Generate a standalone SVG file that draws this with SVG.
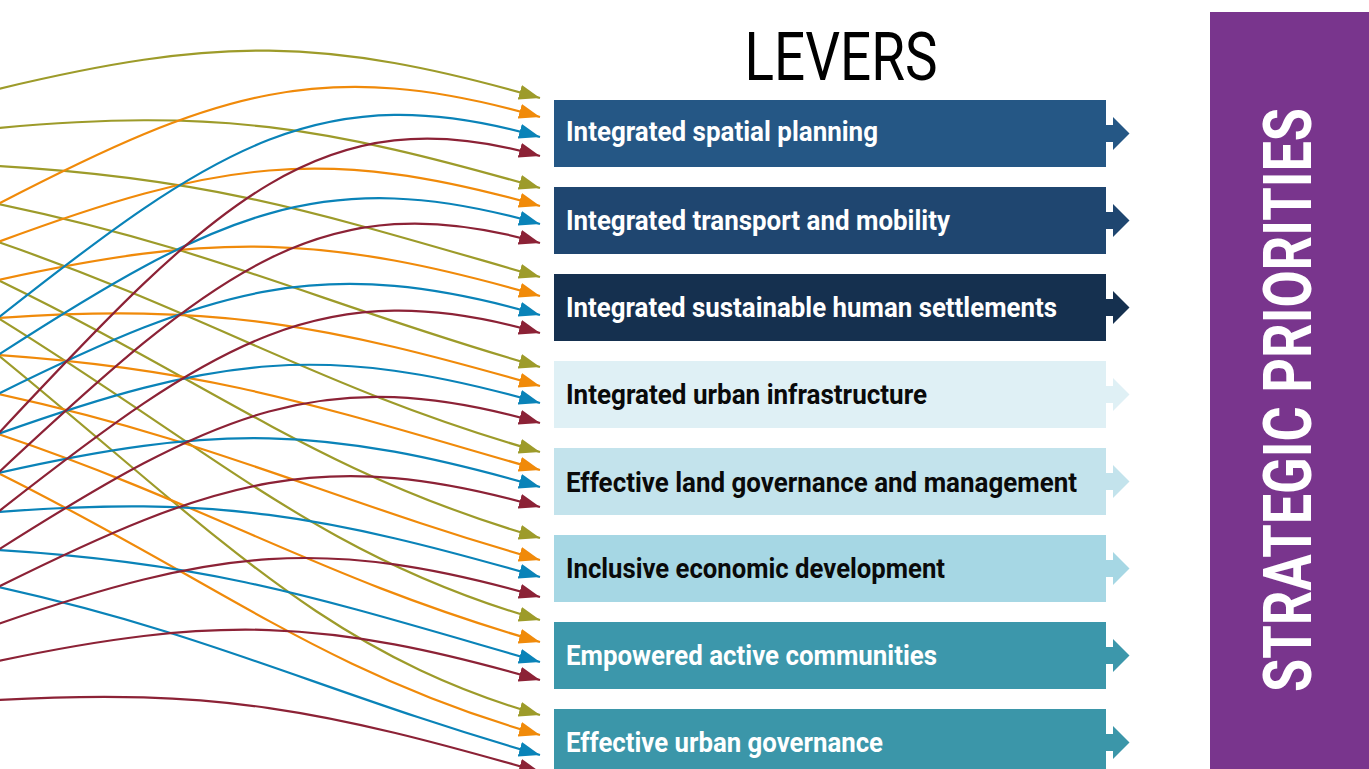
<svg xmlns="http://www.w3.org/2000/svg" width="1369" height="769" viewBox="0 0 1369 769">
<style>
.c{fill:none;stroke-width:2.2}
.ol{stroke:#9d9b2a}.or{stroke:#f08a0a}.bl{stroke:#0a83b8}.ma{stroke:#8c2236}
.lbl{font-family:Roboto,"Liberation Sans",sans-serif;font-weight:700;font-size:28px}
.w{fill:#ffffff}.k{fill:#0a0a0a}
</style>
<defs>
<marker id="a-ol" markerUnits="userSpaceOnUse" markerWidth="22" markerHeight="16" refX="21" refY="8" orient="auto"><path d="M0,0.5 L21,8 L0,15.5 Z" fill="#9d9b2a"/></marker>
<marker id="a-or" markerUnits="userSpaceOnUse" markerWidth="22" markerHeight="16" refX="21" refY="8" orient="auto"><path d="M0,0.5 L21,8 L0,15.5 Z" fill="#f08a0a"/></marker>
<marker id="a-bl" markerUnits="userSpaceOnUse" markerWidth="22" markerHeight="16" refX="21" refY="8" orient="auto"><path d="M0,0.5 L21,8 L0,15.5 Z" fill="#0a83b8"/></marker>
<marker id="a-ma" markerUnits="userSpaceOnUse" markerWidth="22" markerHeight="16" refX="21" refY="8" orient="auto"><path d="M0,0.5 L21,8 L0,15.5 Z" fill="#8c2236"/></marker>
</defs>
<rect width="1369" height="769" fill="#ffffff"/>
<g id="connectors">
<g class="c ol" marker-end="url(#a-ol)">
<path d="M-2,89 C215,37.1 323,35.7 540,98"/>
<path d="M-2,128 C215,108.2 323,125.7 540,188"/>
<path d="M-2,166 C215,178.3 323,214.7 540,277"/>
<path d="M-2,204 C215,249.1 323,304.7 540,367"/>
<path d="M-2,242 C215,316.7 323,389.7 540,452"/>
<path d="M-2,280 C215,384.9 323,475.7 540,538"/>
<path d="M-2,318 C215,452 323,557.7 540,620"/>
<path d="M-2,355 C215,532 323,652.7 540,715"/>
</g>
<g class="c or" marker-end="url(#a-or)">
<path d="M-2,204 C215,91.6 323,54.7 540,117"/>
<path d="M-2,242 C215,161.7 323,143.7 540,206"/>
<path d="M-2,280 C215,232.5 323,233.7 540,296"/>
<path d="M-2,318 C215,303.2 323,323.7 540,386"/>
<path d="M-2,355 C215,369.9 323,407.7 540,470"/>
<path d="M-2,394 C215,441 323,497.7 540,560"/>
<path d="M-2,434 C215,507.4 323,579.7 540,642"/>
<path d="M-2,473 C215,580.5 323,672.7 540,735"/>
</g>
<g class="c bl" marker-end="url(#a-bl)">
<path d="M-2,318 C215,146.4 323,74.7 540,137"/>
<path d="M-2,355 C215,214.9 323,161.7 540,224"/>
<path d="M-2,394 C215,286.6 323,252.7 540,315"/>
<path d="M-2,434 C215,356.9 323,340.7 540,403"/>
<path d="M-2,473 C215,424.2 323,424.7 540,487"/>
<path d="M-2,512 C215,495.4 323,514.7 540,577"/>
<path d="M-2,550 C215,563 323,599.7 540,662"/>
<path d="M-2,587 C215,635.2 323,692.7 540,755"/>
</g>
<g class="c ma" marker-end="url(#a-ma)">
<path d="M-2,434 C215,201.3 323,93.7 540,156"/>
<path d="M-2,473 C215,270.5 323,180.7 540,243"/>
<path d="M-2,512 C215,341.6 323,270.7 540,333"/>
<path d="M-2,550 C215,412.4 323,360.7 540,423"/>
<path d="M-2,587 C215,479 323,444.7 540,507"/>
<path d="M-2,624 C215,549.4 323,534.7 540,597"/>
<path d="M-2,661 C215,615.4 323,617.7 540,680"/>
<path d="M-2,700 C215,687.8 323,709.7 540,772"/>
</g>
</g>
<g id="title"><text x="841" y="80" text-anchor="middle" font-family="Roboto,'Liberation Sans',sans-serif" font-weight="400" font-size="66" fill="#000000" textLength="193" lengthAdjust="spacingAndGlyphs">LEVERS</text></g>
<g id="lever-1"><path d="M554,100 h552 v25 h7 v-8 l16.5,16.5 l-16.5,16.5 v-8 h-7 v25 h-552 z" fill="#255785"/><text class="lbl w" x="566" y="141" textLength="312" lengthAdjust="spacingAndGlyphs">Integrated spatial planning</text></g>
<g id="lever-2"><path d="M554,187 h552 v25 h7 v-8 l16.5,16.5 l-16.5,16.5 v-8 h-7 v25 h-552 z" fill="#1f4670"/><text class="lbl w" x="566" y="230" textLength="384" lengthAdjust="spacingAndGlyphs">Integrated transport and mobility</text></g>
<g id="lever-3"><path d="M554,274 h552 v25 h7 v-8 l16.5,16.5 l-16.5,16.5 v-8 h-7 v25 h-552 z" fill="#15304f"/><text class="lbl w" x="566" y="317" textLength="491" lengthAdjust="spacingAndGlyphs">Integrated sustainable human settlements</text></g>
<g id="lever-4"><path d="M554,361 h552 v25 h7 v-8 l16.5,16.5 l-16.5,16.5 v-8 h-7 v25 h-552 z" fill="#dff0f5"/><text class="lbl k" x="566" y="404" textLength="361" lengthAdjust="spacingAndGlyphs">Integrated urban infrastructure</text></g>
<g id="lever-5"><path d="M554,448 h552 v25 h7 v-8 l16.5,16.5 l-16.5,16.5 v-8 h-7 v25 h-552 z" fill="#c3e3ec"/><text class="lbl k" x="566" y="492" textLength="511" lengthAdjust="spacingAndGlyphs">Effective land governance and management</text></g>
<g id="lever-6"><path d="M554,535 h552 v25 h7 v-8 l16.5,16.5 l-16.5,16.5 v-8 h-7 v25 h-552 z" fill="#a6d7e4"/><text class="lbl k" x="566" y="578" textLength="379" lengthAdjust="spacingAndGlyphs">Inclusive economic development</text></g>
<g id="lever-7"><path d="M554,622 h552 v25 h7 v-8 l16.5,16.5 l-16.5,16.5 v-8 h-7 v25 h-552 z" fill="#3c97ab"/><text class="lbl w" x="566" y="665" textLength="371" lengthAdjust="spacingAndGlyphs">Empowered active communities</text></g>
<g id="lever-8"><path d="M554,709 h552 v25 h7 v-8 l16.5,16.5 l-16.5,16.5 v-8 h-7 v25 h-552 z" fill="#3b96a9"/><text class="lbl w" x="566" y="752" textLength="317" lengthAdjust="spacingAndGlyphs">Effective urban governance</text></g>
<g id="strategic-priorities"><rect x="1210" y="12" width="159" height="757" fill="#79358d"/><text transform="translate(1311,692) rotate(-90) scale(1,1.43)" x="0" y="0" font-family="Roboto,'Liberation Sans',sans-serif" font-weight="700" font-size="47" fill="#ffffff" textLength="584" lengthAdjust="spacingAndGlyphs">STRATEGIC PRIORITIES</text></g>
</svg>
